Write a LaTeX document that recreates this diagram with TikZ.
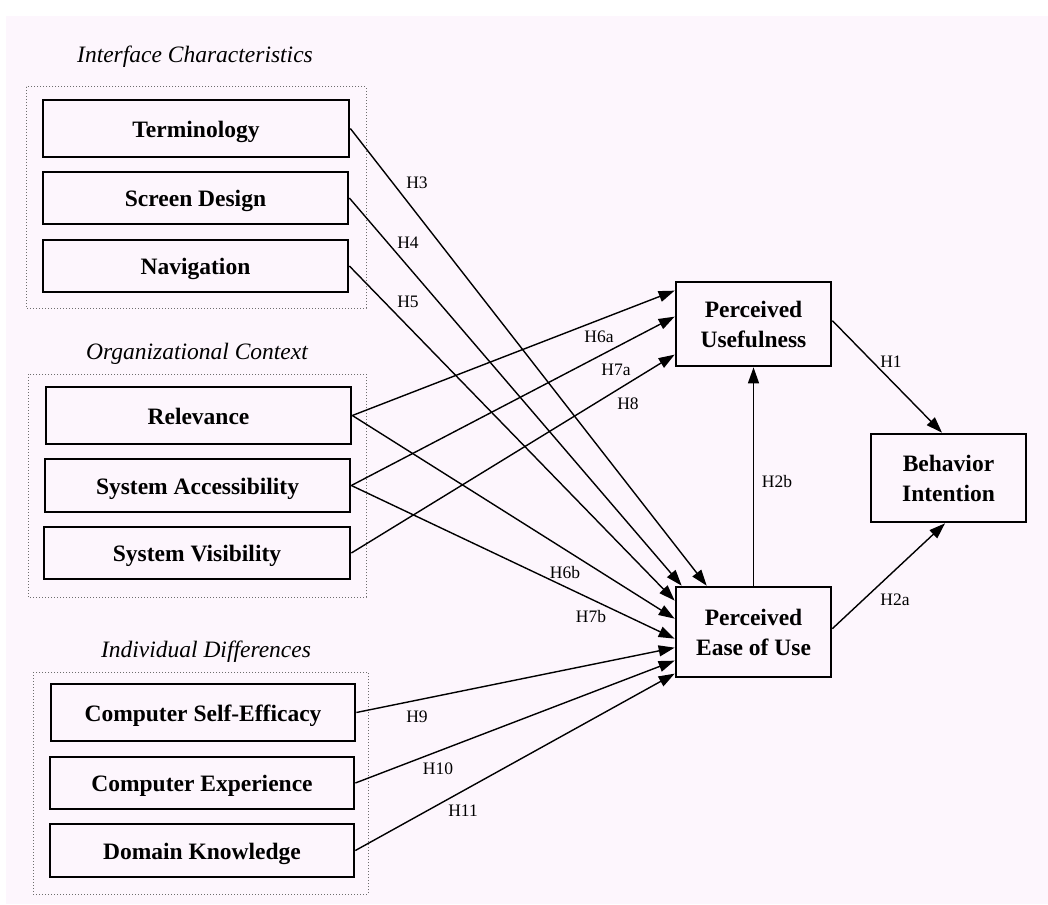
\documentclass[tikz,border=0pt]{standalone}
\usepackage{fontspec}
\setmainfont{Liberation Serif}
\usetikzlibrary{arrows.meta}
\definecolor{bgpink}{RGB}{253,246,253}
\definecolor{framegray}{RGB}{110,110,110}
\tikzset{
  box/.style={draw=black, line width=2.7pt, fill=bgpink, inner sep=0pt, align=center,
    font=\fontsize{23.5}{30}\selectfont\bfseries},
  single/.style={text height=17.5pt, text depth=0pt},
  frame/.style={draw=framegray, line width=1pt, dotted},
  grouptitle/.style={font=\fontsize{23.5}{26}\selectfont\itshape},
  hlabel/.style={font=\fontsize{17.5}{19}\selectfont, inner sep=0pt},
  conn/.style={draw=black, line width=1.4pt, -{Triangle[length=16pt,width=11pt]}},
}
\begin{document}
\begin{tikzpicture}[x=1pt,y=-1pt]
\useasboundingbox (0,0) rectangle (1048,904);
\fill[white] (0,0) rectangle (1048,904);
\fill[bgpink] (6,16) rectangle (1048,904);

% group frames
\draw[frame] (26,87) rectangle (366,308);
\draw[frame] (28,374) rectangle (366,597);
\draw[frame] (33,672) rectangle (368,894);
\node[grouptitle] (t1) at (195,57) {Interface Characteristics};
\node[grouptitle] (t2) at (197,354) {Organizational Context};
\node[grouptitle] (t3) at (206,652) {Individual Differences};

% left boxes
\node[box, single, minimum width=306pt, minimum height=57pt] (term) at (196,128.5) {Terminology};
\node[box, single, minimum width=305pt, minimum height=52pt] (screen) at (195.5,198) {Screen Design};
\node[box, single, minimum width=305pt, minimum height=52pt] (nav) at (195.5,266) {Navigation};
\node[box, single, minimum width=305pt, minimum height=57pt] (rel) at (198.5,415.5) {Relevance};
\node[box, single, minimum width=305pt, minimum height=53pt] (acc) at (197.5,485.5) {System Accessibility};
\node[box, single, minimum width=306pt, minimum height=52pt] (vis) at (197,553) {System Visibility};
\node[box, single, minimum width=304pt, minimum height=57pt] (cse) at (203,712.5) {Computer Self-Efficacy};
\node[box, single, minimum width=304pt, minimum height=52pt] (ce) at (202,783) {Computer Experience};
\node[box, single, minimum width=304pt, minimum height=53pt] (dk) at (202,850.5) {Domain Knowledge};

% right boxes
\node[box, minimum width=155pt, minimum height=84pt] (pu) at (753.5,324) {Perceived\\Usefulness};
\node[box, minimum width=155pt, minimum height=88pt] (bi) at (948.5,478) {Behavior\\Intention};
\node[box, minimum width=155pt, minimum height=90pt] (peou) at (753.5,632) {Perceived\\Ease of Use};

% arrow end points
\coordinate (pu1) at ([yshift=-10pt]pu.north west);
\coordinate (pu2) at ([yshift=-36pt]pu.north west);
\coordinate (pu3) at ([yshift=-74pt]pu.north west);
\coordinate (pe3) at ([xshift=32pt]peou.north west);
\coordinate (pe4) at ([xshift=7pt]peou.north west);
\coordinate (pe5) at ([yshift=-15pt]peou.north west);
\coordinate (pe6) at ([yshift=-33pt]peou.north west);
\coordinate (pe7) at ([yshift=-53pt]peou.north west);
\coordinate (pe9) at ([yshift=-62pt]peou.north west);
\coordinate (pe10) at ([yshift=-75pt]peou.north west);
\coordinate (pe11) at ([yshift=-88pt]peou.north west);
\coordinate (puout) at ([yshift=-40pt]pu.north east);
\coordinate (peout) at ([yshift=-43pt]peou.north east);
\coordinate (bitop) at ([xshift=-6.5pt]bi.north);
\coordinate (bibot) at ([xshift=-3.5pt]bi.south);

% connectors
\draw[conn] (term.east) -- (pe3);
\draw[conn] (screen.east) -- (pe4);
\draw[conn] (nav.east) -- (pe5);
\draw[conn] (rel.east) -- (pu1);
\draw[conn] (rel.east) -- (pe6);
\draw[conn] (acc.east) -- (pu2);
\draw[conn] (acc.east) -- (pe7);
\draw[conn] (vis.east) -- (pu3);
\draw[conn] (cse.east) -- (pe9);
\draw[conn] (ce.east) -- (pe10);
\draw[conn] (dk.east) -- (pe11);
\draw[conn] (peou.north) -- (pu.south);
\draw[conn] (puout) -- (bitop);
\draw[conn] (peout) -- (bibot);

% labels
\node[hlabel] (h3) at (417,183) {H3};
\node[hlabel] (h4) at (408,243) {H4};
\node[hlabel] (h5) at (408,302) {H5};
\node[hlabel] (h6a) at (599,337) {H6a};
\node[hlabel] (h7a) at (616,370) {H7a};
\node[hlabel] (h8) at (628,404) {H8};
\node[hlabel] (h6b) at (565,573) {H6b};
\node[hlabel] (h7b) at (591,617) {H7b};
\node[hlabel] (h9) at (417,717) {H9};
\node[hlabel] (h10) at (438,769) {H10};
\node[hlabel] (h11) at (463,811) {H11};
\node[hlabel] (h1) at (891,362) {H1};
\node[hlabel] (h2b) at (777,482) {H2b};
\node[hlabel] (h2a) at (895,600) {H2a};
\end{tikzpicture}
\end{document}
